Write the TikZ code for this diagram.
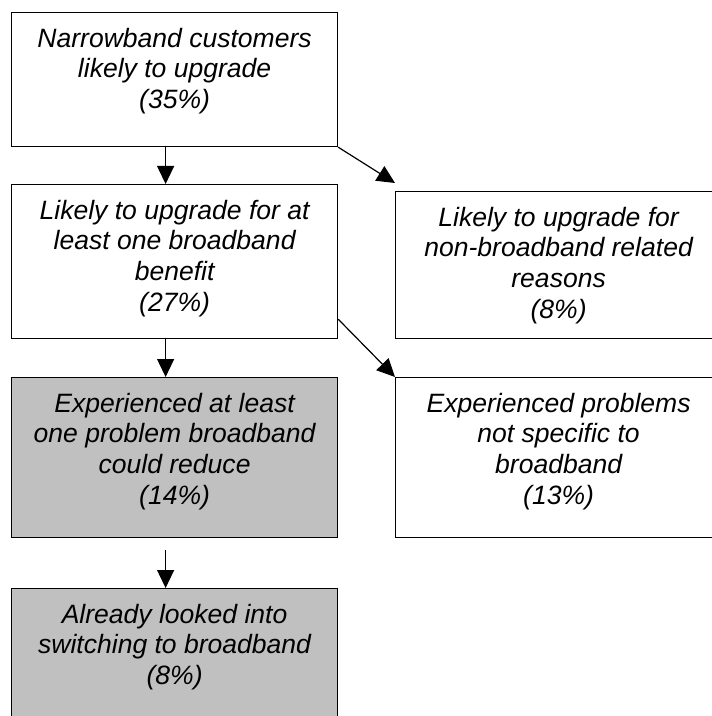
\documentclass[tikz,border=0pt]{standalone}
\usepackage{fontspec}
\setmainfont{Liberation Sans}
\usetikzlibrary{positioning, arrows.meta}
\definecolor{boxgray}{RGB}{192,192,192}

\begin{document}
\begin{tikzpicture}[x=0.75pt, y=-0.75pt,
        box/.style={draw, line width=0.9pt, rectangle, anchor=north west, inner sep=0pt, minimum width=244.5pt},
        shaded/.style={box, fill=boxgray},
        txt/.style={inner sep=0pt, align=center, font=\itshape\fontsize{19.9pt}{23pt}\selectfont},
        link/.style={line width=0.9pt, -{Triangle[length=13.5pt, width=12.75pt]}}]
            \useasboundingbox (0,0) rectangle (712,716);
            % the boxes (pixel grid, y runs down)
            \node[box, minimum height=100.5pt] (nb) at (11,12) {};
            \node[box, minimum height=115.5pt] (up) at (11,184) {};
            \node[box, minimum height=110.25pt] (nonbb) at (395,191) {};
            \node[shaded, minimum height=120pt] (prob) at (11,377) {};
            \node[box, minimum height=120pt] (notbb) at (395,377) {};
            \node[shaded, minimum height=114pt] (look) at (11,588) {}; % runs off the bottom
            % their texts
            \node[txt, below=11.8pt of nb.north] (nb-t) {Narrowband customers\\likely to upgrade\\(35\%)};
            \node[txt, below=11.8pt of up.north] (up-t) {Likely to upgrade for at\\least one broadband\\benefit\\(27\%)};
            \node[txt, below=11.8pt of nonbb.north] (nonbb-t) {Likely to upgrade for\\non-broadband related\\reasons\\(8\%)};
            \node[txt, below=11.8pt of prob.north] (prob-t) {Experienced at least\\one problem broadband\\could reduce\\(14\%)};
            \node[txt, below=11.8pt of notbb.north] (notbb-t) {Experienced problems\\not specific to\\broadband\\(13\%)};
            \node[txt, below=11.8pt of look.north] (look-t) {Already looked into\\switching to broadband\\(8\%)};
            % arrows
            \draw[link] ([xshift=-6.75pt]nb.south) -- ([xshift=-6.75pt]up.north);
            \draw[link] (nb.south east) -- ([yshift=6pt]nonbb.north west);
            \draw[link] ([xshift=-6.75pt]up.south) -- ([xshift=-6.75pt]prob.north);
            \draw[link] ([yshift=15pt]up.south east) -- (notbb.north west);
            \draw[link] ([xshift=-6.75pt, yshift=-9pt]prob.south) -- ([xshift=-6.75pt]look.north);
        \end{tikzpicture}
\end{document}
